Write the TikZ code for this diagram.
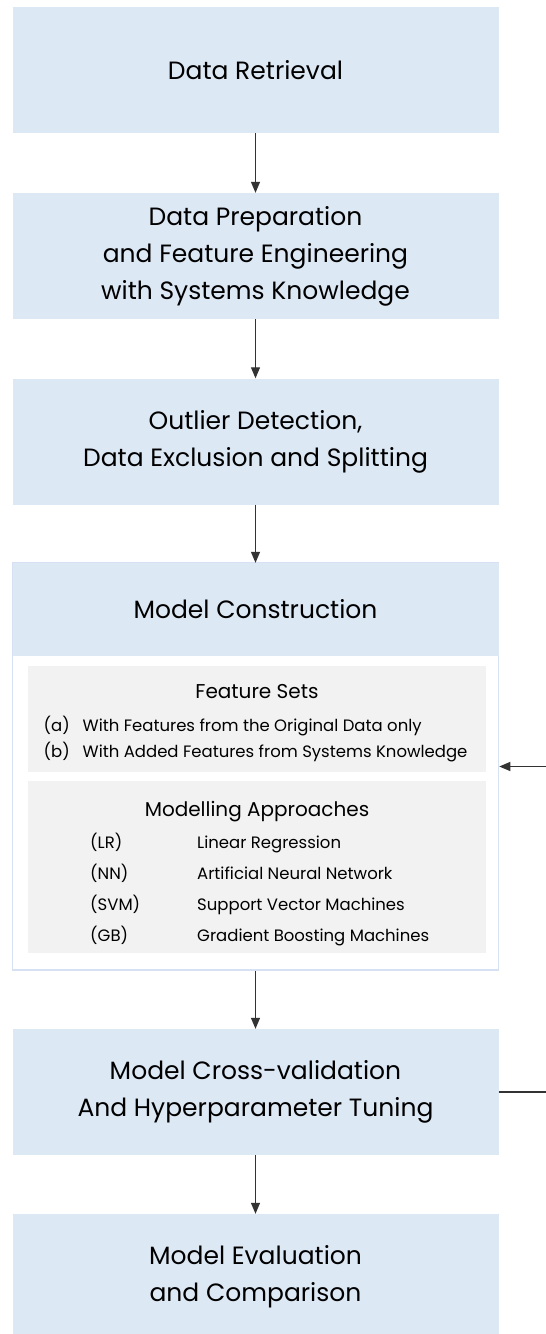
\documentclass[tikz,border=0pt]{standalone}
\usepackage{fontspec}
\setmainfont{Poppins}
\usetikzlibrary{arrows.meta}
\definecolor{boxblue}{RGB}{221,232,245}
\definecolor{frameblue}{RGB}{214,226,243}
\definecolor{innergray}{RGB}{242,242,242}
\definecolor{arrowgray}{RGB}{51,51,51}
\tikzset{
  stepbox/.style={fill=boxblue, draw=none, minimum width=486pt, minimum height=126pt, inner sep=0pt, align=center, font=\fontsize{25}{37}\selectfont},
  headbox/.style={fill=boxblue, draw=none, minimum width=486pt, minimum height=93pt, inner sep=0pt, align=center, font=\fontsize{25}{37}\selectfont},
  framebox/.style={draw=frameblue, line width=1.5pt, minimum width=486pt, minimum height=407pt, inner sep=0pt},
  graybox/.style={fill=innergray, draw=none, minimum width=458pt, inner sep=0pt},
  subtitle/.style={inner sep=0pt, font=\fontsize{20}{24}\selectfont},
  itemtext/.style={inner sep=0pt, anchor=west, font=\fontsize{16.5}{20}\selectfont, text height=12pt, text depth=3.5pt},
  flow/.style={draw=arrowgray, line width=1.1pt, -{Triangle[length=11pt,width=9pt]}}
}
\begin{document}
\begin{tikzpicture}[x=1pt,y=-1pt]
\useasboundingbox[fill=white] (0,0) rectangle (546,1334);
\node[stepbox] (b1) at (255.5,70) {Data Retrieval};
\node[stepbox] (b2) at (255.5,256) {Data Preparation\\and Feature Engineering\\with Systems Knowledge};
\node[stepbox] (b3) at (255.5,441.5) {Outlier Detection,\\Data Exclusion and Splitting};
\node[framebox] (b4) at (255.5,766.5) {};
\node[headbox] (b4h) at (255.5,609.5) {Model Construction};
\node[graybox, minimum height=106pt] (fs) at (257,719) {};
\node[graybox, minimum height=172pt] (ma) at (257,867) {};
\node[subtitle] (fst) at (257,692) {Feature Sets};
\node[itemtext] (fa) at (43.5,727) {(a)};
\node[itemtext] (fat) at (82.5,727) {With Features from the Original Data only};
\node[itemtext] (fb) at (43.5,753) {(b)};
\node[itemtext] (fbt) at (82.5,753) {With Added Features from Systems Knowledge};
\node[subtitle] (mat) at (257,812) {Modelling Approaches};
\node[itemtext] (m1) at (90,844) {(LR)};
\node[itemtext] (m1t) at (197,844) {Linear Regression};
\node[itemtext] (m2) at (90,875) {(NN)};
\node[itemtext] (m2t) at (197,875) {Artificial Neural Network};
\node[itemtext] (m3) at (90,906) {(SVM)};
\node[itemtext] (m3t) at (197,906) {Support Vector Machines};
\node[itemtext] (m4) at (90,937) {(GB)};
\node[itemtext] (m4t) at (197,937) {Gradient Boosting Machines};
\node[stepbox] (b5) at (255.5,1092) {Model Cross-validation\\And Hyperparameter Tuning};
\node[stepbox] (b6) at (255.5,1277) {Model Evaluation\\and Comparison};
\draw[flow] (b1) -- (b2);
\draw[flow] (b2) -- (b3);
\draw[flow] (b3) -- (b4h);
\draw[flow] (b4) -- (b5);
\draw[flow] (b5) -- (b6);
\coordinate (loop) at (570,1092);
\draw[flow] (b5.east) -- (loop) |- (b4.east);
\end{tikzpicture}
\end{document}
